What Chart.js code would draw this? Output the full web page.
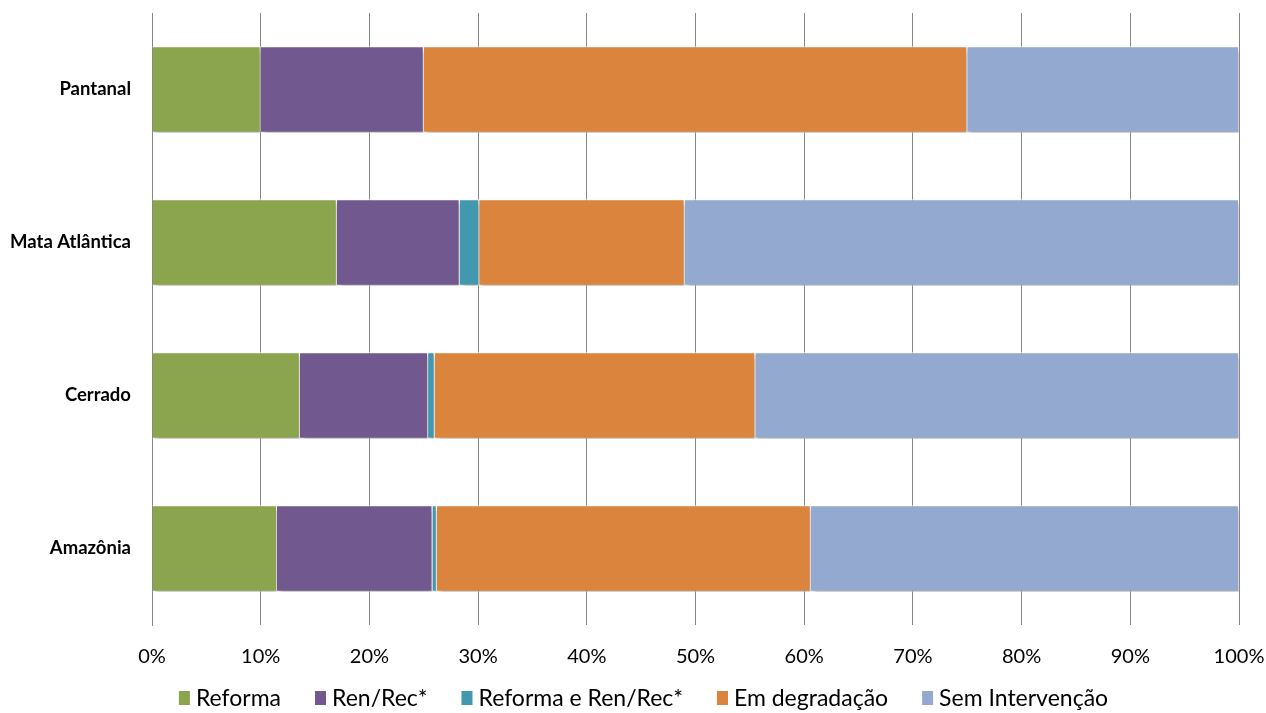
<!DOCTYPE html>
<html><head><meta charset="utf-8">
<script src="https://cdn.jsdelivr.net/npm/chart.js@4/dist/chart.umd.min.js"></script>
<style>html,body{margin:0;padding:0;background:#fff}#wrap{width:1266px;height:713px}</style>
</head><body><div id="wrap"><canvas id="c" width="1266" height="713"></canvas></div>
<script>
const categories = ['Pantanal', 'Mata Atlântica', 'Cerrado', 'Amazônia'];
const reforma = [10, 17, 13.6, 11.5];
const renRec = [15, 11.3, 11.8, 14.3];
const reformaRenRec = [0, 1.8, 0.6, 0.4];
const emDegradacao = [50, 18.9, 29.5, 34.4];
const semIntervencao = [25, 51, 44.5, 39.4];
const xTicks = [0,10,20,30,40,50,60,70,80,90,100];

const FONT = 'Lato, "Open Sans", sans-serif';
const mk = (label, data, color) => ({label, data, backgroundColor: color, borderColor: '#ffffff', borderWidth: 1, barPercentage: 0.565, categoryPercentage: 1});

const shadowPlugin = {
  id: 'barShadow',
  beforeDatasetsDraw(chart) {
    const ctx = chart.ctx;
    ctx.save();
    ctx.shadowColor = 'rgba(0,0,0,0.28)';
    ctx.shadowBlur = 5;
    ctx.shadowOffsetX = 2;
    ctx.shadowOffsetY = 4;
  },
  afterDatasetsDraw(chart) { chart.ctx.restore(); }
};

// Legend drawn on the canvas from the datasets (Excel-like spacing)
const legendPlugin = {
  id: 'xlLegend',
  afterDraw(chart) {
    const ctx = chart.ctx;
    const fontSize = 23, boxW = 11, boxH = 14, gapBox = 6, gapItem = 34;
    ctx.save();
    ctx.font = fontSize + 'px ' + FONT;
    const items = chart.data.datasets.map(d => ({text: d.label, color: d.backgroundColor, w: ctx.measureText(d.label).width}));
    const total = items.reduce((s, it) => s + boxW + gapBox + it.w, 0) + gapItem * (items.length - 1);
    let x = (chart.width + 21) / 2 - total / 2;
    const yc = chart.height - 15;
    ctx.textBaseline = 'middle';
    items.forEach(it => {
      ctx.fillStyle = it.color;
      ctx.fillRect(x, yc - boxH / 2, boxW, boxH);
      ctx.fillStyle = '#000';
      ctx.fillText(it.text, x + boxW + gapBox, yc + 1);
      x += boxW + gapBox + it.w + gapItem;
    });
    ctx.restore();
  }
};

new Chart(document.getElementById('c'), {
  type: 'bar',
  data: {
    labels: categories,
    datasets: [
      mk('Reforma', reforma, '#8BA54E'),
      mk('Ren/Rec*', renRec, '#71588F'),
      mk('Reforma e Ren/Rec*', reformaRenRec, '#4198AF'),
      mk('Em degradação', emDegradacao, '#DB843D'),
      mk('Sem Intervenção', semIntervencao, '#93A9CF')
    ]
  },
  plugins: [shadowPlugin, legendPlugin],
  options: {
    indexAxis: 'y',
    responsive: false,
    animation: false,
    layout: {padding: {top: 13, right: 27, left: 0, bottom: 38}},
    plugins: {
      tooltip: {enabled: false},
      legend: {display: false}
    },
    scales: {
      x: {
        stacked: true, min: 0, max: 100,
        afterBuildTicks(s) { s.ticks = xTicks.map(v => ({value: v})); },
        afterFit(s) { s.height = 50; s.paddingLeft = 0; s.paddingRight = 0; },
        grid: {color: '#868686', lineWidth: 1, drawTicks: false},
        border: {display: false},
        ticks: {font: {family: FONT, size: 20}, color: '#000', padding: 20, maxRotation: 0, callback: v => v + '%'}
      },
      y: {
        stacked: true,
        afterFit(s) { s.width = 152; s.paddingTop = 0; s.paddingBottom = 0; },
        grid: {display: false, drawTicks: false},
        border: {display: true, color: '#868686', width: 1},
        ticks: {font: {family: FONT, size: 18.5, weight: 'bold'}, color: '#000', padding: 21}
      }
    }
  }
});
</script></body></html>
